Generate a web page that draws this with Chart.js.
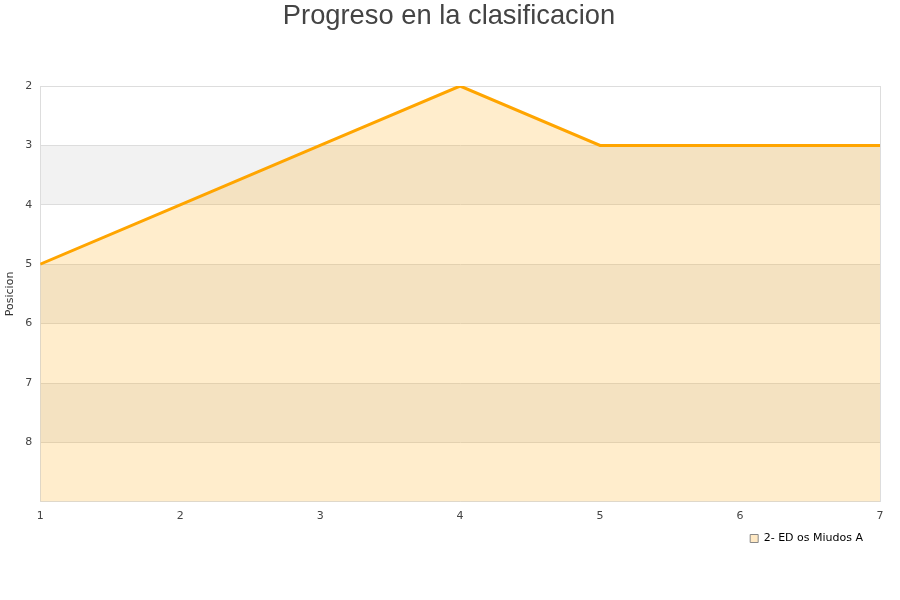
<!DOCTYPE html>
<html>
<head>
<meta charset="utf-8">
<script src="https://cdn.jsdelivr.net/npm/chart.js@4"></script>
<style>
html,body{margin:0;padding:0;background:#fff;}
#wrap{width:900px;height:600px;}
</style>
</head>
<body>
<div id="wrap"><canvas id="c" width="900" height="600"></canvas></div>
<script>
const jornadas = [1, 2, 3, 4, 5, 6, 7];
const posiciones = [5, 4, 3, 2, 3, 3, 3];
const yTicks = [2, 3, 4, 5, 6, 7, 8];
const seriesName = '2- ED os Miudos A';
const chartTitle = 'Progreso en la clasificacion';
const yTitle = 'Posicion';

const bandPlugin = {
  id: 'bands',
  afterLayout(chart) {
    const lg = chart.legend;
    if (lg) {
      lg.top -= 8; lg.bottom -= 8;
      lg.left -= 7; lg.right -= 7;
    }
  },
  beforeDraw(chart) {
    const {ctx, chartArea, scales} = chart;
    const y = scales.y;
    ctx.save();
    ctx.fillStyle = '#f2f2f2';
    for (let v = 3; v < 9; v += 2) {
      const a = y.getPixelForValue(v), b = y.getPixelForValue(v + 1);
      ctx.fillRect(chartArea.left, Math.min(a, b), chartArea.right - chartArea.left, Math.abs(b - a));
    }
    ctx.restore();
  },
  afterDraw(chart) {
    const ctx = chart.ctx;
    ctx.save();
    ctx.fillStyle = '#444';
    ctx.font = '27.3px "Liberation Sans"';
    ctx.textAlign = 'center';
    ctx.textBaseline = 'middle';
    ctx.fillText(chartTitle, 449, 16);
    ctx.restore();
  }
};

Chart.defaults.font.family = 'DejaVu Sans';
Chart.defaults.font.size = 11;
Chart.defaults.color = '#444';

new Chart(document.getElementById('c'), {
  type: 'line',
  data: {
    datasets: [{
      label: seriesName,
      data: jornadas.map((x, i) => ({x: x, y: posiciones[i]})),
      borderColor: '#ffa500',
      backgroundColor: 'rgba(255,165,0,0.2)',
      borderWidth: 3,
      pointRadius: 0,
      fill: 'start',
      tension: 0
    }]
  },
  options: {
    responsive: false,
    animation: false,
    layout: {padding: {left: 4, right: 20, top: 86, bottom: 38}},
    plugins: {
      title: {display: false},
      legend: {
        position: 'bottom',
        align: 'end',
        labels: {
          boxWidth: 8,
          boxHeight: 8,
          color: '#111',
          font: {size: 11},
          padding: 10,
          generateLabels(chart) {
            return [{
              text: seriesName,
              fillStyle: '#ffe9c4',
              strokeStyle: '#888888',
              lineWidth: 1,
              datasetIndex: 0
            }];
          }
        }
      },
      tooltip: {enabled: false}
    },
    scales: {
      x: {
        type: 'linear',
        min: 1,
        max: 7,
        ticks: {stepSize: 1, padding: 8, color: '#444'},
        grid: {
          drawTicks: false,
          color: ctx => (ctx.tick && ctx.tick.value === 7) ? '#dddddd' : 'rgba(0,0,0,0)'
        },
        border: {color: '#dddddd'}
      },
      y: {
        min: 2,
        max: 9,
        reverse: true,
        ticks: {
          stepSize: 1,
          padding: 8,
          color: '#444',
          callback: v => yTicks.includes(v) ? String(v) : ''
        },
        grid: {drawTicks: false, color: '#dddddd'},
        border: {color: '#dddddd'},
        title: {display: true, text: yTitle, color: '#333', font: {size: 11}, padding: {top: 0, bottom: 0}}
      }
    }
  },
  plugins: [bandPlugin]
});
</script>
</body>
</html>
